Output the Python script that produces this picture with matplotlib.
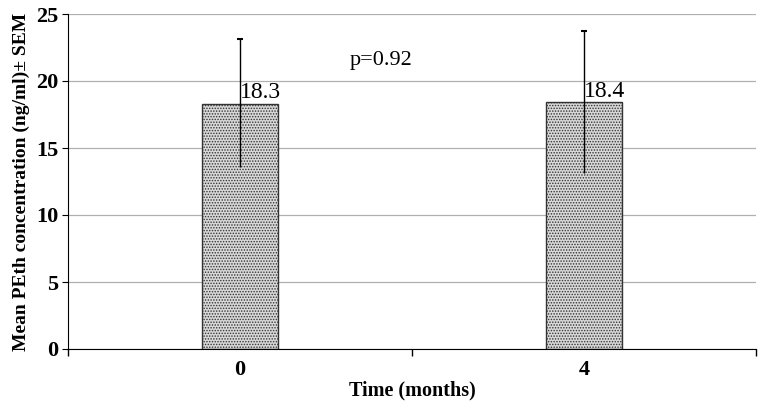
import matplotlib
matplotlib.use("Agg")
import matplotlib.pyplot as plt

#Data
months = ["0", "4"]
mean_peth = [18.3, 18.4]
sem_low = [4.7, 5.3]
sem_high = [4.8, 5.3]
value_labels = ["18.3", "18.4"]
p_text = "p=0.92"

plt.rcParams["font.family"] = ["Liberation Serif", "DejaVu Serif"]
plt.rcParams["hatch.color"] = "#444444"
plt.rcParams["hatch.linewidth"] = 0.7

fig = plt.figure(figsize=(7.59, 4.04), dpi=100)
ax = fig.add_axes([68/759, 55/404, 688/759, 335/404])

x = [0, 1]
ax.bar(x, mean_peth, width=0.22, color="#d8d8d8", edgecolor="#333333",
       linewidth=1.0, hatch="......", zorder=2)
ax.errorbar(x, mean_peth, yerr=[sem_low, sem_high], fmt="none",
            ecolor="black", elinewidth=1.0, capsize=0, zorder=3)
#small cap only on top end
tops = [mean_peth[i] + sem_high[i] for i in range(len(x))]
ax.plot(x, tops, linestyle="none", marker="_", markersize=4,
        color="black", markeredgewidth=1.5, zorder=3)

for i in range(len(x)):
    ax.text(x[i] + 0.0, mean_peth[i] + 0.05, value_labels[i],
            fontsize=17, ha="left", va="bottom", zorder=4)

ax.text(0.41, 21.5, p_text, fontsize=16, ha="center", va="center")

ax.set_xlim(-0.5, 1.5)
ax.set_ylim(0, 25)
ax.set_yticks([0, 5, 10, 15, 20, 25])
ax.set_xticks(x)
ax.set_xticklabels(months, fontsize=16, fontweight="bold")
ax.set_xticks([-0.5, 0.5, 1.5], minor=True)
ax.tick_params(axis="x", which="major", length=0, pad=8)
ax.tick_params(axis="x", which="minor", length=5, direction="out", width=1)
ax.tick_params(axis="y", length=4, direction="out", labelsize=16, pad=3)
for lab in ax.get_yticklabels():
    lab.set_fontweight("bold")

ax.yaxis.grid(True, color="#b0b0b0", linewidth=0.9, zorder=0)
ax.set_axisbelow(True)
ax.spines["top"].set_visible(False)
ax.spines["right"].set_visible(False)

ax.set_xlabel("Time (months)", fontsize=14.5, fontweight="bold", labelpad=0)
ax.set_ylabel("Mean PEth concentration (ng/ml)\u00b1 SEM", fontsize=14,
              fontweight="bold", labelpad=4)

fig.savefig("out.png", dpi=100)
